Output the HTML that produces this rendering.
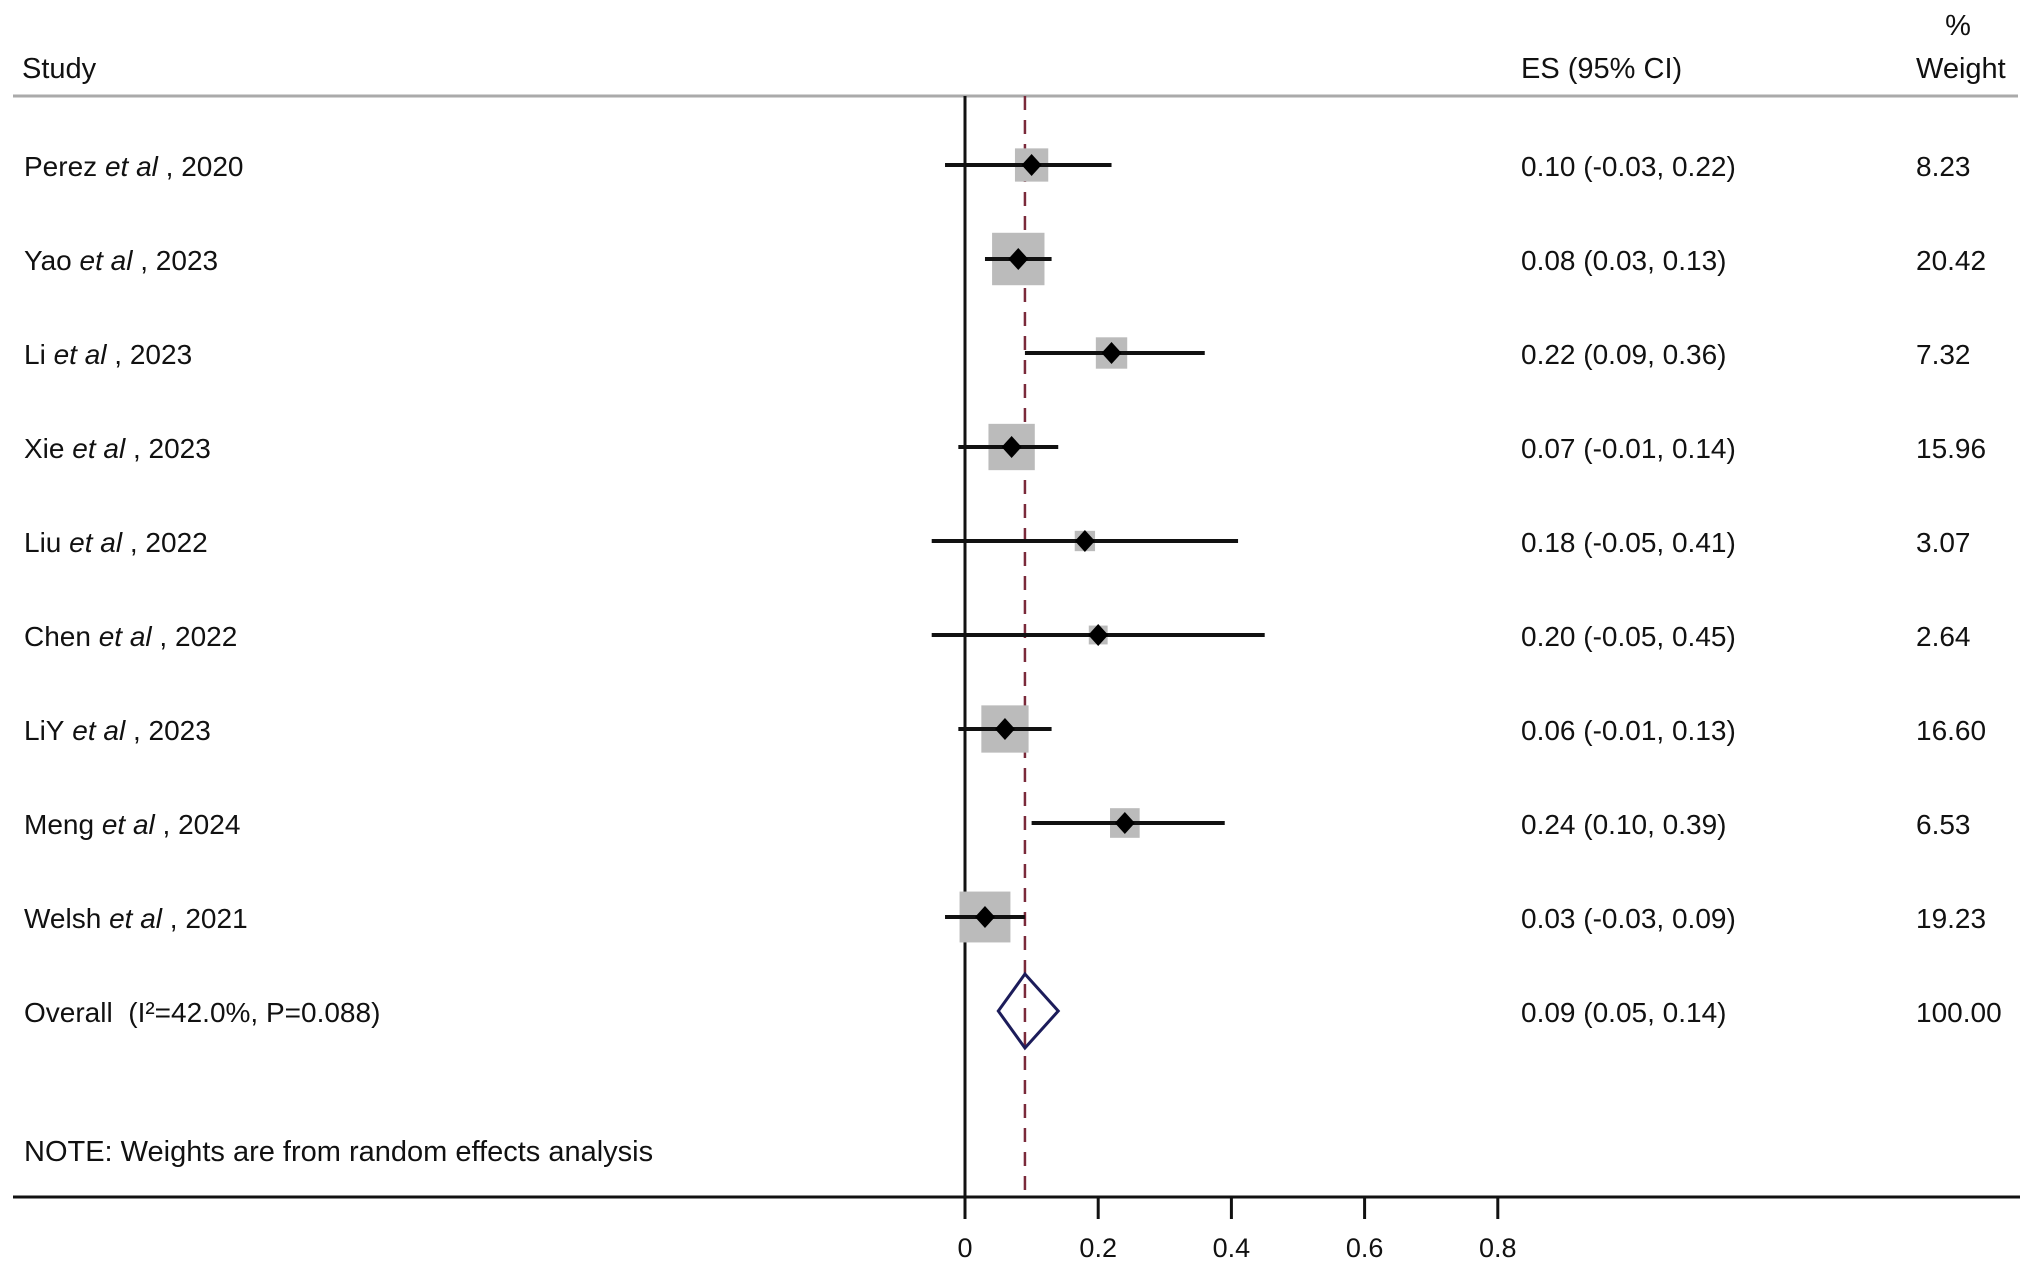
<!DOCTYPE html>
<html><head><meta charset="utf-8"><style>
html,body{margin:0;padding:0;background:#fff;}
svg{display:block;font-family:"Liberation Sans",Arial,sans-serif;}
</style></head><body>
<svg id="chart" width="2032" height="1272" viewBox="0 0 2032 1272" xmlns="http://www.w3.org/2000/svg">
<g font-size="29" fill="#111">
<text x="22" y="78">Study</text>
<text x="1521" y="78">ES (95% CI)</text>
<text x="1958" y="35" text-anchor="middle">%</text>
<text x="1916" y="78">Weight</text>
</g>
<line x1="13" y1="96" x2="2018" y2="96" stroke="#aaa" stroke-width="3"/>
<g id="marks"></g>
<text x="24" y="1161" font-size="29" fill="#111">NOTE: Weights are from random effects analysis</text>
</svg>
<script>
const studies = ["Perez","Yao","Li","Xie","Liu","Chen","LiY","Meng","Welsh"];
const years = ["2020","2023","2023","2023","2022","2022","2023","2024","2021"];
const es = [0.10,0.08,0.22,0.07,0.18,0.20,0.06,0.24,0.03];
const lo = [-0.03,0.03,0.09,-0.01,-0.05,-0.05,-0.01,0.10,-0.03];
const hi = [0.22,0.13,0.36,0.14,0.41,0.45,0.13,0.39,0.09];
const esLabels = ["0.10 (-0.03, 0.22)","0.08 (0.03, 0.13)","0.22 (0.09, 0.36)","0.07 (-0.01, 0.14)","0.18 (-0.05, 0.41)","0.20 (-0.05, 0.45)","0.06 (-0.01, 0.13)","0.24 (0.10, 0.39)","0.03 (-0.03, 0.09)"];
const weights = [8.23,20.42,7.32,15.96,3.07,2.64,16.60,6.53,19.23];
const overallEs = 0.09, overallLo = 0.05, overallHi = 0.14;
const overallLabel = "0.09 (0.05, 0.14)";
const overallWeight = "100.00";
const ticks = [0,0.2,0.4,0.6,0.8];
const tickLabels = ["0","0.2","0.4","0.6","0.8"];

const NS="http://www.w3.org/2000/svg";
const X = v => 965 + v*666;
const Y = i => 165 + i*94;
const g = document.getElementById('marks');
function mk(tag, attrs){const e=document.createElementNS(NS,tag);for(const k in attrs)e.setAttribute(k,attrs[k]);g.appendChild(e);return e;}

const plotTop=96, axisY=1197;
let e = mk('line',{x1:X(0),y1:plotTop,x2:X(0),y2:axisY,stroke:'#111','stroke-width':3});


e = mk('line',{x1:X(overallEs),y1:plotTop,x2:X(overallEs),y2:axisY,stroke:'#7a2a3a','stroke-width':2.5,'stroke-dasharray':'14 10'});



studies.forEach((s,i)=>{
  const y=Y(i), sz=11.6*Math.sqrt(weights[i]);
  let r=mk('rect',{x:X(es[i])-sz/2,y:y-sz/2,width:sz,height:sz,fill:'#bbb'});
  
  
  let l=mk('line',{x1:X(lo[i]),y1:y,x2:X(hi[i]),y2:y,stroke:'#111','stroke-width':4});
  
  
  const cx=X(es[i]);
  let d=mk('polygon',{points:`${cx-10},${y} ${cx},${y-11} ${cx+10},${y} ${cx},${y+11}`,fill:'#000'});
  
  
  let t=mk('text',{x:24,y:y+11,'font-size':28,fill:'#111'});
  t.innerHTML=`${s}&#160;<tspan font-style="italic">et al</tspan>&#160;, ${years[i]}`;
  
  
  let t2=mk('text',{x:1521,y:y+11,'font-size':28,fill:'#111'});
  t2.textContent=esLabels[i];
  
  
  let t3=mk('text',{x:1916,y:y+11,'font-size':28,fill:'#111'});
  t3.textContent=weights[i].toFixed(2);
  
  
});

const oy=Y(9);
let od=mk('polygon',{points:`${X(overallLo)},${oy} ${X(overallEs)},${oy-37} ${X(overallHi)},${oy} ${X(overallEs)},${oy+37}`,fill:'none',stroke:'#1c1c5a','stroke-width':3});


let ot=mk('text',{x:24,y:oy+11,'font-size':28,fill:'#111'});
ot.innerHTML='Overall&#160;&#160;(I²=42.0%, P=0.088)';


let oe=mk('text',{x:1521,y:oy+11,'font-size':28,fill:'#111'});
oe.textContent=overallLabel;


let ow=mk('text',{x:1916,y:oy+11,'font-size':28,fill:'#111'});
ow.textContent=overallWeight;



let ax=mk('line',{x1:13,y1:axisY,x2:2020,y2:axisY,stroke:'#111','stroke-width':3});


ticks.forEach((v,i)=>{
  let tk=mk('line',{x1:X(v),y1:axisY,x2:X(v),y2:axisY+22,stroke:'#111','stroke-width':3});
  
  
  let tl=mk('text',{x:X(v),y:1257,'font-size':27,fill:'#111','text-anchor':'middle'});
  tl.textContent=tickLabels[i];
  
  
});
</script>
</body></html>
